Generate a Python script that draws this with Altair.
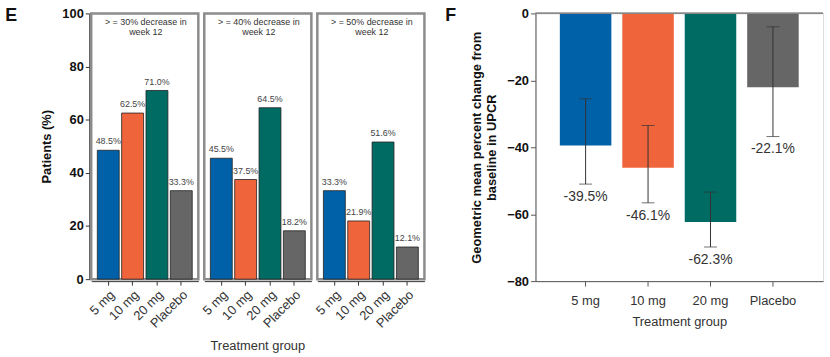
import altair as alt
import pandas as pd

groups = ["5 mg", "10 mg", "20 mg", "Placebo"]
colors = ["#0061A8", "#EF643B", "#006B63", "#666666"]
panels = ["p30", "p40", "p50"]
panel_headers = ["> = 30% decrease in\nweek 12", "> = 40% decrease in\nweek 12", "> = 50% decrease in\nweek 12"]
pct_30 = [48.5, 62.5, 71.0, 33.3]
pct_40 = [45.5, 37.5, 64.5, 18.2]
pct_50 = [33.3, 21.9, 51.6, 12.1]
gm_change = [-39.5, -46.1, -62.3, -22.1]
ci_upper = [-25.5, -33.5, -53.4, -4.0]
ci_lower = [-51.0, -56.6, -69.8, -36.8]

FONT = "Liberation Sans"

rows = []
for p, h, vals in zip(panels, panel_headers, [pct_30, pct_40, pct_50]):
    for g, v in zip(groups, vals):
        rows.append({"panel": p, "header": h, "group": g, "value": v, "label": f"{v:.1f}%"})
df_e = pd.DataFrame(rows)

df_f = pd.DataFrame({
    "group": groups,
    "change": gm_change,
    "hi": ci_upper,
    "lo": ci_lower,
    "label": [f"{v:.1f}%" for v in gm_change],
})

color_scale = alt.Scale(domain=groups, range=colors)

x_e = alt.X("group:N", sort=groups,
            scale=alt.Scale(paddingInner=0.1, paddingOuter=0.25),
            axis=alt.Axis(title=None, labelAngle=-45, labelFontSize=13, labelColor="#333",
                          tickColor="#333", domainColor="#333", tickSize=4, labelPadding=3))
y_e = alt.Y("value:Q", scale=alt.Scale(domain=[0, 100]),
            axis=alt.Axis(values=[0, 20, 40, 60, 80, 100], title="Patients (%)", titleFontSize=13,
                          titleFontWeight="bold", titleColor="#111", labelFontWeight="bold",
                          labelFontSize=13, labelColor="#111", grid=False, tickSize=4,
                          domainColor="#333", tickColor="#333", titlePadding=8))

bars_e = alt.Chart().mark_bar(stroke="#222", strokeWidth=0.8).encode(
    x=x_e, y=y_e, color=alt.Color("group:N", scale=color_scale, legend=None))
labels_e = alt.Chart().mark_text(baseline="bottom", dy=-4, fontSize=9, color="#444", font=FONT).encode(
    x=x_e, y=y_e, text="label:N")
headers_e = alt.Chart().transform_filter("datum.group == '5 mg'").mark_text(
    fontSize=9, baseline="top", lineBreak="\n", lineHeight=10, color="#333", font=FONT).encode(
    text="header:N", x=alt.value(55), y=alt.value(5))

e_layer = alt.layer(bars_e, labels_e, headers_e).properties(
    width=108, height=268,
    view=alt.ViewBackground(stroke="#8c8c8c", strokeWidth=2.5))

e_chart = e_layer.facet(
    data=df_e,
    column=alt.Column("panel:N", sort=panels,
                      header=alt.Header(labels=False, title="Treatment group", titleOrient="bottom",
                                        titleFontSize=13, titleFontWeight="normal", titleColor="#333",
                                        titleFont=FONT, titlePadding=-1)),
    spacing=2,
).properties(title=alt.TitleParams("E", orient="left", anchor="end", angle=0, fontSize=18,
                                   fontWeight="bold", font=FONT, color="#111", offset=12))

x_f = alt.X("group:N", sort=groups,
            scale=alt.Scale(paddingInner=0.175, paddingOuter=0.39),
            axis=alt.Axis(title="Treatment group", labelAngle=0, labelFontSize=13, titleFontSize=13,
                          titleFontWeight="normal", labelColor="#333", titleColor="#333",
                          domainColor="#555", tickColor="#555", tickSize=5, labelPadding=9,
                          titlePadding=8))
y_f = alt.Y("change:Q", scale=alt.Scale(domain=[-80, 0]),
            axis=alt.Axis(values=[0, -20, -40, -60, -80],
                          title=["Geometric mean percent change from", "baseline in UPCR"],
                          titleFontSize=13, titleFontWeight="bold", titleColor="#111",
                          labelFontWeight="bold", labelFontSize=13, labelColor="#111", grid=False,
                          tickSize=5, domainColor="#555", tickColor="#555", titlePadding=8))

base_f = alt.Chart(df_f)
bars_f = base_f.mark_bar().encode(x=x_f, y=y_f, color=alt.Color("group:N", scale=color_scale, legend=None))
zero_f = base_f.mark_rule(color="#888", strokeWidth=1.2).encode(y=alt.datum(0))
err_f = base_f.mark_rule(color="#333", strokeWidth=1).encode(x=x_f, y="lo:Q", y2="hi:Q")
cap_hi = base_f.mark_tick(color="#333", size=13, thickness=1).encode(x=x_f, y="hi:Q")
cap_lo = base_f.mark_tick(color="#333", size=13, thickness=1).encode(x=x_f, y="lo:Q")
lab_f = base_f.mark_text(dy=13, baseline="middle", fontSize=14, color="#333", font=FONT).encode(
    x=x_f, y="lo:Q", text="label:N")

f_chart = alt.layer(bars_f, zero_f, err_f, cap_hi, cap_lo, lab_f).properties(
    width=290, height=270,
    title=alt.TitleParams("F", orient="left", anchor="end", angle=0, fontSize=18,
                          fontWeight="bold", font=FONT, color="#111"))

chart = alt.hconcat(e_chart, f_chart, spacing=18).configure_view(stroke="transparent").configure(
    font=FONT)

chart.save("out.html", embed_options={"renderer": "svg", "actions": False})
